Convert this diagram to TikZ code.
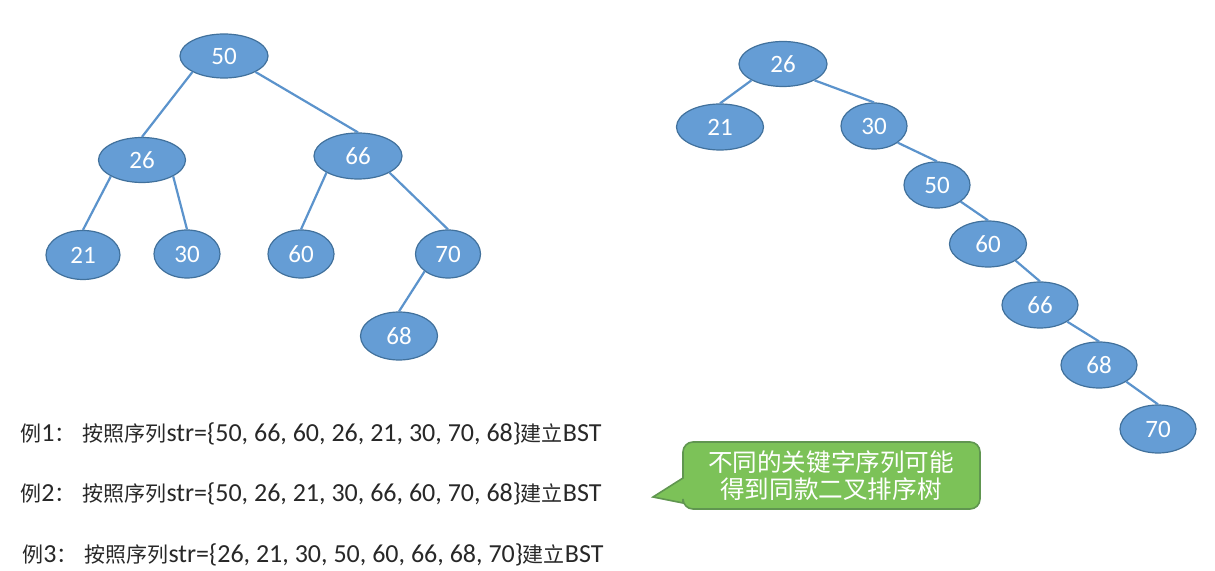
\documentclass[tikz,border=0pt]{standalone}
\usepackage{fontspec}
\setmainfont{Carlito}
\newfontfamily\cjk{Noto Sans CJK SC}
\usetikzlibrary{shapes.geometric}

\definecolor{nodefill}{RGB}{101,157,213}
\definecolor{nodeline}{RGB}{65,113,156}
\definecolor{linkblue}{RGB}{91,147,204}
\definecolor{bubblefill}{RGB}{124,194,88}
\definecolor{bubbleline}{RGB}{96,150,80}
\definecolor{seqgray}{RGB}{40,40,40}

\newcommand{\zh}[1]{{\cjk\fontsize{10.5pt}{12pt}\selectfont #1}}

\begin{document}
\begin{tikzpicture}[x=0.5pt, y=-0.5pt,
    bst/.style={ellipse, draw=nodeline, line width=0.6pt, fill=nodefill, text=white, inner sep=0pt, font=\fontsize{12.5pt}{13pt}\selectfont},
    link/.style={draw=linkblue, line width=1.1pt},
    seqline/.style={anchor=base west, inner sep=0pt, text=seqgray, font=\fontsize{13pt}{15pt}\selectfont},
]
\useasboundingbox[fill=white] (0,0) rectangle (1215,571);

% BST built from example 1 / example 2
\node[bst, minimum width=44pt, minimum height=22pt] (a50) at (224,56) {50};
\node[bst, minimum width=43.5pt, minimum height=22.5pt] (a26) at (142,160) {26};
\node[bst, minimum width=44pt, minimum height=23pt] (a66) at (358,156) {66};
\node[bst, minimum width=37pt, minimum height=24.5pt] (a21) at (83,255) {21};
\node[bst, minimum width=33pt, minimum height=24pt] (a30) at (187,254) {30};
\node[bst, minimum width=33pt, minimum height=24pt] (a60) at (301,254) {60};
\node[bst, minimum width=32.5pt, minimum height=24pt] (a70) at (448,254) {70};
\node[bst, minimum width=38.5pt, minimum height=24pt] (a68) at (399,336) {68};

\draw[link] (a50.south west) -- (a26.north);
\draw[link] (a50.south east) -- (a66.north);
\draw[link] (a26.south west) -- (a21.north);
\draw[link] (a26.south east) -- (a30.north);
\draw[link] (a66.south west) -- (a60.north);
\draw[link] (a66.south east) -- (a70.north);
\draw[link] (a70.south west) -- (a68.north);

% BST built from example 3
\node[bst, minimum width=44pt, minimum height=22.5pt] (b26) at (783,64) {26};
\node[bst, minimum width=43.5pt, minimum height=23pt] (b21) at (720,127) {21};
\node[bst, minimum width=33pt, minimum height=23pt] (b30) at (874,126) {30};
\node[bst, minimum width=33pt, minimum height=23pt] (b50) at (937,185) {50};
\node[bst, minimum width=38.5pt, minimum height=23pt] (b60) at (988,244) {60};
\node[bst, minimum width=38pt, minimum height=23pt] (b66) at (1040,305) {66};
\node[bst, minimum width=38pt, minimum height=23pt] (b68) at (1099,365) {68};
\node[bst, minimum width=38pt, minimum height=24pt] (b70) at (1158,429) {70};

\draw[link] (b26.south west) -- (b21.north);
\draw[link] (b26.south east) -- (b30.north);
\draw[link] (b30.south east) -- (b50.north);
\draw[link] (b50.south east) -- (b60.north);
\draw[link] (b60.south east) -- (b66.north);
\draw[link] (b66.south east) -- (b68.north);
\draw[link] (b68.south east) -- (b70.north);

% insertion sequences
\node[seqline] (ex1) at (20,442) {\zh{例}1\zh{：}\hspace{3.5pt}\zh{按照序列}str=\{50, 66, 60, 26, 21, 30, 70, 68\}\zh{建立}BST};
\node[seqline] (ex2) at (20,502) {\zh{例}2\zh{：}\hspace{3.5pt}\zh{按照序列}str=\{50, 26, 21, 30, 66, 60, 70, 68\}\zh{建立}BST};
\node[seqline] (ex3) at (22,562) {\zh{例}3\zh{：}\hspace{3.5pt}\zh{按照序列}str=\{26, 21, 30, 50, 60, 66, 68, 70\}\zh{建立}BST};

% speech bubble
\draw[fill=bubblefill, draw=bubbleline, line width=0.8pt, rounded corners=5pt]
    (683,478) -- (683,442) -- (980,442) -- (980,509) -- (683,509)
    [sharp corners] -- (683,503) -- (653,497) -- cycle;
\node[text=white, align=center, inner sep=0pt, font=\cjk\fontsize{12.3pt}{13.5pt}\selectfont] (note) at (831,476)
    {不同的关键字序列可能\\得到同款二叉排序树};

\end{tikzpicture}
\end{document}
